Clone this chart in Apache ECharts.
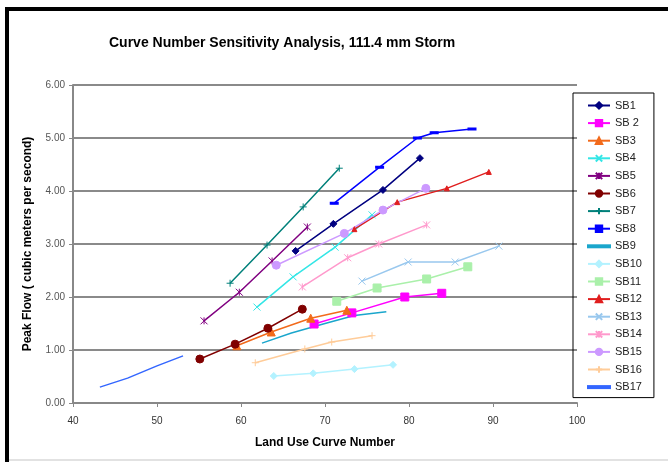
<!DOCTYPE html>
<html>
<head>
<meta charset="utf-8">
<script src="https://cdn.jsdelivr.net/npm/echarts@6/dist/echarts.min.js"></script>
<style>
  html, body { margin: 0; padding: 0; background: #fff; }
  #chart { width: 668px; height: 462px; }
</style>
</head>
<body>
<div id="chart"></div>
<script>
// curve number vs peak flow, one small array per subbasin
const sb1 = [[66.5, 2.87], [71, 3.38], [76.9, 4.02], [81.3, 4.62]]
const sb2 = [[68.7, 1.49], [73.2, 1.70], [79.5, 2.00], [83.9, 2.07]]
const sb3 = [[59.5, 1.08], [63.6, 1.34], [68.3, 1.60], [72.6, 1.75]]
const sb4 = [[61.9, 1.81], [66.2, 2.38], [71.2, 2.94], [75.6, 3.55]]
const sb5 = [[55.6, 1.55], [59.8, 2.09], [63.7, 2.68], [67.9, 3.32]]
const sb6 = [[55.1, 0.83], [59.3, 1.11], [63.2, 1.41], [67.3, 1.77]]
const sb7 = [[58.7, 2.26], [63.1, 2.98], [67.4, 3.70], [71.7, 4.43]]
const sb8 = [[71.1, 3.77], [76.5, 4.45], [81, 5.0], [83, 5.1], [87.5, 5.17]]
const sb9 = [[62.5, 1.13], [66, 1.32], [70, 1.50], [73.5, 1.65], [77.3, 1.72]]
const sb10 = [[63.9, 0.51], [68.6, 0.56], [73.5, 0.64], [78.1, 0.72]]
const sb11 = [[71.4, 1.92], [76.2, 2.17], [82.1, 2.34], [87.0, 2.57]]
const sb12 = [[73.5, 3.28], [78.6, 3.79], [84.5, 4.05], [89.5, 4.36]]
const sb13 = [[74.4, 2.30], [79.9, 2.66], [85.5, 2.66], [90.7, 2.96]]
const sb14 = [[67.3, 2.19], [72.7, 2.74], [76.4, 3.0], [82.1, 3.36]]
const sb15 = [[64.2, 2.60], [72.3, 3.20], [76.9, 3.64], [82, 4.05]]
const sb16 = [[61.7, 0.76], [67.6, 1.02], [70.8, 1.15], [75.6, 1.27]]
const sb17 = [[43.2, 0.30], [46.5, 0.47], [50, 0.70], [53.1, 0.89]]

const names = ['SB1', 'SB 2', 'SB3', 'SB4', 'SB5', 'SB6', 'SB7', 'SB8', 'SB9',
  'SB10', 'SB11', 'SB12', 'SB13', 'SB14', 'SB15', 'SB16', 'SB17']
const values = [sb1, sb2, sb3, sb4, sb5, sb6, sb7, sb8, sb9,
  sb10, sb11, sb12, sb13, sb14, sb15, sb16, sb17]

const X = 'path://M0,0L10,10M10,0L0,10'
const PLUS = 'path://M5,0L5,10M0,5L10,5'
const STAR = 'path://M0,0L10,10M10,0L0,10M5,0L5,10'
const LINE = 'path://M0,4L22,4L22,6L0,6Z'

const colors = ['#000080', '#ff00ff', '#f26a1b', '#33e6e6', '#800080', '#800000',
  '#00807a', '#0000ff', '#1aa6cc', '#b3f2ff', '#aaf0aa', '#e01e1e',
  '#99c8ee', '#ff99cc', '#cc99ff', '#ffcc99', '#3366ff']
const symbols = ['diamond', 'rect', 'triangle', X, STAR, 'circle', PLUS, 'rect', 'none',
  'diamond', 'rect', 'triangle', X, STAR, 'circle', PLUS, 'none']
const sizes = [7, 8, 8, 7, 7, 8, 7, [6, 2], 0, 7, 8, 5, 7, 7, 8, 7, 0]

const chart = echarts.init(document.getElementById('chart'))

chart.setOption({
  animation: false,
  textStyle: { fontFamily: 'Liberation Sans' },
  title: {
    text: 'Curve Number Sensitivity Analysis, 111.4 mm Storm',
    left: 104,
    top: 31,
    textStyle: { fontSize: 14, fontWeight: 'bold', color: '#000' }
  },
  graphic: [{
    type: 'polyline',
    shape: { points: [[7, 470], [7, 9], [680, 9]] },
    style: { fill: 'none', stroke: '#000', lineWidth: 4 }
  }, {
    type: 'line',
    shape: { x1: 9, y1: 460, x2: 668, y2: 460 },
    style: { stroke: '#d8d8d8', lineWidth: 1.5 }
  }],
  legend: {
    orient: 'vertical',
    left: 573,
    top: 93,
    padding: [7, 12, 5, 14],
    itemGap: 6.6,
    itemWidth: 22,
    itemHeight: 8,
    borderColor: '#000',
    borderWidth: 1,
    textStyle: { fontSize: 11, color: '#222' },
    data: names.map((n, i) => symbols[i] === 'none' ? { name: n, icon: LINE } : { name: n })
  },
  grid: { left: 73, right: 91, top: 85, bottom: 59 },
  xAxis: {
    type: 'value',
    min: 40,
    max: 100,
    interval: 10,
    name: 'Land Use Curve Number',
    nameLocation: 'middle',
    nameGap: 34,
    nameTextStyle: { fontWeight: 'bold', fontSize: 12, color: '#000' },
    axisLine: { lineStyle: { color: '#888', width: 2 } },
    axisTick: { length: 4, lineStyle: { color: '#888' } },
    axisLabel: { fontSize: 10, color: '#333', margin: 13 },
    splitLine: { show: false }
  },
  yAxis: {
    type: 'value',
    min: 0,
    max: 6,
    interval: 1,
    name: 'Peak Flow ( cubic meters per second)',
    nameLocation: 'middle',
    nameGap: 39,
    nameTextStyle: { fontWeight: 'bold', fontSize: 12, color: '#000' },
    axisLine: { show: true, lineStyle: { color: '#888', width: 2 } },
    axisTick: { show: true, length: 4, lineStyle: { color: '#888' } },
    axisLabel: {
      fontSize: 10,
      color: '#555',
      formatter: v => v.toFixed(2)
    },
    splitLine: { lineStyle: { color: '#8a8a8a', width: 2 } }
  },
  series: names.map((n, i) => ({
    name: n,
    type: 'line',
    data: values[i],
    color: colors[i],
    symbol: symbols[i],
    symbolSize: sizes[i],
    showSymbol: symbols[i] !== 'none',
    lineStyle: { width: 1.5 },
    itemStyle: { borderColor: colors[i], borderWidth: 1 }
  }))
})
</script>
</body>
</html>
